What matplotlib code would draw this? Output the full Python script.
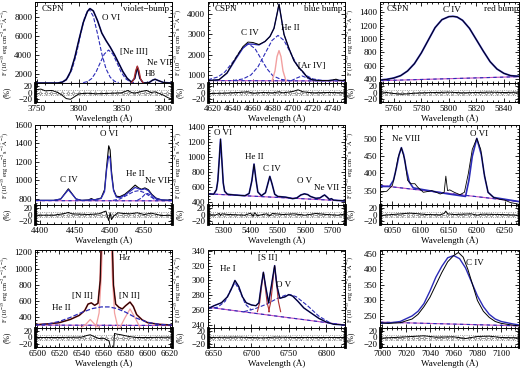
import matplotlib
matplotlib.use("Agg")
import matplotlib.pyplot as plt
import numpy as np
from matplotlib.ticker import MultipleLocator, AutoMinorLocator

plt.rcParams['font.family'] = ['Liberation Serif', 'DejaVu Serif']
plt.rcParams['mathtext.fontset'] = 'stix'
plt.rcParams['font.size'] = 6.5

BLK = 'black'
BLU = '#2b2bb8'
PNK = '#f2a0a0'
RED = '#b03030'
MAG = '#c050c0'

# ---------- panel 1: violet bump ----------
p1_w = [3748, 3775, 3780, 3785, 3790, 3795, 3800, 3805, 3810, 3813, 3817, 3822, 3827, 3832,
        3837, 3842, 3847, 3852, 3857, 3862, 3866, 3869, 3872, 3876, 3883, 3887, 3890, 3894, 3900, 3910]
p1_obs = [1000, 1000, 1080, 1350, 2200, 3700, 5600, 7400, 8600, 8900, 8650, 7600, 6300, 5500,
          4800, 4000, 3100, 2200, 1500, 1100, 1500, 2700, 1500, 1000, 1050, 1300, 1400, 1250, 1050, 1000]
p1_c1_w = [3775, 3782, 3787, 3792, 3797, 3802, 3807, 3812, 3817, 3822, 3827, 3832, 3837, 3842, 3847]
p1_c1 = [1000, 1190, 1600, 2500, 4100, 6200, 8070, 8850, 8070, 6200, 4100, 2500, 1600, 1190, 1050]
p1_c2_w = [3805, 3810, 3815, 3820, 3825, 3830, 3835, 3840, 3845, 3850, 3855, 3860, 3865]
p1_c2 = [1040, 1150, 1470, 2130, 3130, 4080, 4500, 4080, 3130, 2130, 1470, 1150, 1040]
p1_r_w = [3862, 3865, 3867, 3869, 3871, 3873, 3876]
p1_r = [1000, 1400, 2300, 2800, 2300, 1400, 1000]
p1_res_w = [3748, 3755, 3760, 3768, 3775, 3780, 3785, 3790, 3795, 3800, 3810, 3820, 3830, 3840,
            3850, 3858, 3862, 3866, 3872, 3880, 3885, 3890, 3895, 3900, 3905, 3910]
p1_res = [8, 10, 5, 6, 0, -8, -18, -20, -12, -4, -2, -4, -3, -2, -1, 6, 0, -2, 2, 6, 0, 2, -3, -8, -15, -20]

# ---------- panel 2: blue bump ----------
p2_w = [4615, 4626, 4634, 4643, 4650, 4655, 4660, 4666, 4672, 4677, 4681, 4684, 4686, 4688,
        4691, 4696, 4701, 4706, 4710, 4714, 4719, 4726, 4735, 4740, 4743, 4746, 4752]
p2_obs = [720, 760, 1100, 1850, 2400, 2620, 2600, 2500, 2650, 2900, 3300, 4000, 4500, 3900,
          3000, 2300, 1700, 1350, 1150, 900, 760, 720, 720, 750, 790, 730, 720]
p2_fit = [720, 760, 1080, 1800, 2330, 2520, 2520, 2480, 2650, 2900, 3300, 4000, 4480, 3900,
          3000, 2300, 1700, 1350, 1150, 900, 760, 720, 720, 740, 760, 730, 720]
p2_c1_w = [4615, 4625, 4632, 4640, 4648, 4655, 4662, 4668, 4674, 4680, 4688, 4697]
p2_c1 = [760, 900, 1150, 1650, 2250, 2550, 2300, 1800, 1300, 950, 780, 720]
p2_c2_w = [4640, 4650, 4658, 4665, 4672, 4679, 4685, 4691, 4698, 4705, 4712, 4720, 4730]
p2_c2 = [720, 800, 1000, 1400, 2050, 2700, 2950, 2700, 2050, 1400, 1000, 800, 720]
p2_c3_w = [4698, 4704, 4709, 4714, 4720]
p2_c3 = [710, 850, 950, 850, 710]
p2_r_w = [4679, 4682, 4684, 4686, 4688, 4690, 4693]
p2_r = [700, 1200, 1900, 2200, 1900, 1200, 700]
p2_res_w = [4615, 4630, 4645, 4655, 4660, 4670, 4680, 4686, 4690, 4700, 4705, 4710, 4720, 4735, 4752]
p2_res = [-3, -2, 0, 2, -2, 0, -1, 2, -1, 3, 8, 2, -1, 0, -1]

# ---------- panel 3: red bump ----------
p3_w = [5750, 5755, 5760, 5765, 5770, 5775, 5780, 5785, 5790, 5795, 5800, 5803, 5806, 5810,
        5815, 5820, 5825, 5830, 5835, 5840, 5845, 5851]
p3_obs = [385, 395, 415, 450, 520, 630, 790, 980, 1170, 1290, 1335, 1340, 1330, 1280,
          1160, 990, 820, 660, 550, 485, 450, 440]
p3_res_w = [5750, 5755, 5760, 5765, 5770, 5775, 5780, 5790, 5800, 5810, 5820, 5830, 5840, 5851]
p3_res = [2, 0, -3, -5, -4, -2, -1, 0, 1, -1, 0, 1, 0, 1]

# ---------- panel 4 ----------
p4_w = [4393, 4420, 4430, 4436, 4441, 4446, 4452, 4460, 4470, 4474, 4478, 4488, 4493, 4496,
        4499, 4501, 4503, 4506, 4510, 4515, 4522, 4530, 4537, 4542, 4546, 4551, 4556, 4561,
        4567, 4575, 4590]
p4_obs = [785, 785, 800, 860, 910, 860, 800, 785, 790, 805, 790, 810, 900, 1150,
          1375, 1330, 1100, 900, 830, 825, 850, 900, 950, 920, 905, 920, 900, 850,
          810, 790, 785]
p4_fit = [785, 785, 800, 855, 900, 855, 800, 785, 788, 795, 790, 805, 880, 1120,
          1265, 1240, 1060, 890, 820, 815, 840, 885, 925, 910, 900, 910, 890, 840,
          805, 790, 785]
p4_c1_w = [4505, 4515, 4525, 4535, 4542, 4550, 4558, 4565, 4575]
p4_c1 = [785, 800, 840, 880, 890, 870, 830, 800, 785]
p4_c2_w = [4540, 4546, 4551, 4555, 4559, 4564, 4570]
p4_c2 = [785, 810, 850, 860, 840, 800, 785]
p4_res_w = [4393, 4420, 4436, 4441, 4446, 4470, 4485, 4492, 4495, 4497, 4499, 4501, 4503,
            4506, 4512, 4520, 4530, 4540, 4550, 4560, 4575, 4590]
p4_res = [-2, -2, 3, 6, 2, 0, 2, 8, 10, -5, -18, 5, -15, -5, 5, 3, 2, 5, 0, 4, -3, -2]

# ---------- panel 5 ----------
p5_w = [5244, 5265, 5275, 5280, 5285, 5290, 5295, 5300, 5305, 5315, 5340, 5380, 5395, 5405,
        5413, 5420, 5427, 5440, 5455, 5463, 5471, 5479, 5489, 5500, 5530, 5555, 5570, 5585,
        5598, 5610, 5620, 5640, 5655, 5665, 5672, 5680, 5690, 5697, 5705, 5747]
p5_obs = [505, 500, 560, 680, 950, 1240, 950, 650, 540, 500, 490, 480, 510, 680,
          905, 700, 530, 480, 520, 630, 740, 640, 500, 470, 460, 440, 450, 490,
          505, 495, 470, 445, 450, 475, 490, 465, 430, 440, 420, 410]
p5_res_w = [5244, 5270, 5285, 5290, 5295, 5320, 5380, 5400, 5410, 5415, 5425, 5460, 5470,
            5480, 5520, 5560, 5600, 5640, 5680, 5720, 5747]
p5_res = [0, -2, 3, -3, 2, 0, -2, 4, -5, 5, -3, 2, -4, 3, 0, 2, -2, 3, 0, -2, 1]

# ---------- panel 6 ----------
p6_w = [6028, 6040, 6050, 6055, 6060, 6066, 6072, 6077, 6083, 6090, 6095, 6105, 6115, 6120,
        6128, 6135, 6142, 6145, 6148, 6152, 6160, 6170, 6178, 6185, 6192, 6200, 6207, 6213,
        6220, 6230, 6240, 6250, 6260, 6275]
p6_obs = [345, 348, 365, 400, 445, 475, 440, 380, 370, 370, 360, 345, 348, 350,
          345, 340, 345, 392, 350, 352, 345, 338, 345, 400, 470, 502, 470, 400,
          345, 330, 325, 322, 315, 310]
p6_fit_w = [6028, 6045, 6052, 6057, 6062, 6066, 6070, 6075, 6080, 6087, 6100, 6150, 6180,
            6186, 6192, 6200, 6208, 6214, 6220, 6230, 6275]
p6_fit = [362, 362, 380, 415, 455, 475, 455, 410, 375, 358, 354, 340, 333,
          380, 450, 502, 455, 390, 345, 330, 318]
p6_res_w = [6028, 6050, 6066, 6080, 6090, 6110, 6135, 6142, 6145, 6148, 6160, 6190, 6200,
            6210, 6240, 6275]
p6_res = [-3, 0, 2, 4, 3, 0, -1, 3, 10, 2, 0, 2, -2, 1, 0, -2]

# ---------- panel 7 ----------
p7_w = [6498, 6510, 6520, 6530, 6538, 6543, 6546, 6549, 6552, 6555, 6557, 6559, 6563, 6567,
        6569, 6571, 6574, 6577, 6580, 6584, 6587, 6590, 6595, 6600, 6610, 6622]
p7_obs = [305, 315, 330, 370, 420, 480, 560, 575, 545, 570, 850, 1800, 2800, 1800,
          800, 560, 520, 500, 540, 585, 530, 430, 365, 330, 310, 300]
p7_c1_w = [6498, 6510, 6520, 6530, 6540, 6550, 6558, 6565, 6572, 6580, 6590, 6600, 6610, 6622]
p7_c1 = [300, 315, 345, 395, 455, 505, 525, 525, 505, 460, 385, 335, 310, 300]
p7_n1_w = [6540, 6544, 6548, 6552, 6556]
p7_n1 = [270, 310, 370, 310, 270]
p7_ha_w = [6553, 6556, 6558, 6560, 6563, 6566, 6568, 6570, 6573]
p7_ha = [270, 450, 900, 1800, 2800, 1800, 900, 450, 270]
p7_n2_w = [6575, 6579, 6584, 6589, 6593]
p7_n2 = [270, 380, 500, 380, 270]
p7_res_w = [6498, 6520, 6540, 6545, 6548, 6552, 6556, 6560, 6565, 6567, 6569, 6570, 6572,
            6576, 6580, 6585, 6590, 6600, 6622]
p7_res = [0, 0, 1, 6, 8, 2, -3, -2, -10, -40, -40, 12, 10, 8, 5, 2, 0, 0, 1]

# ---------- panel 8 ----------
p8_w = [6642, 6650, 6660, 6668, 6673, 6678, 6683, 6688, 6693, 6700, 6706, 6710, 6713, 6716,
        6719, 6723, 6727, 6731, 6734, 6738, 6745, 6750, 6755, 6762, 6770, 6780, 6790, 6800,
        6810, 6825]
p8_obs = [262, 266, 270, 278, 288, 300, 292, 278, 270, 267, 266, 270, 292, 311,
          292, 270, 295, 320, 293, 276, 278, 281, 279, 272, 263, 256, 249, 244,
          241, 240]
p8_c1_w = [6642, 6655, 6665, 6672, 6678, 6684, 6692, 6700]
p8_c1 = [262, 264, 272, 287, 297, 287, 268, 260]
p8_c2_w = [6690, 6705, 6720, 6735, 6745, 6752, 6760, 6775, 6790, 6805]
p8_c2 = [258, 262, 268, 276, 280, 281, 278, 266, 252, 243]
p8_s1_w = [6708, 6711, 6714, 6716, 6718, 6721, 6724]
p8_s1 = [258, 270, 295, 311, 295, 270, 258]
p8_s2_w = [6723, 6726, 6729, 6731, 6733, 6736, 6739]
p8_s2 = [258, 272, 302, 320, 302, 272, 258]
p8_res_w = [6642, 6680, 6716, 6731, 6760, 6825]
p8_res = [0, 1, -1, 1, 0, 0]

# ---------- panel 9 ----------
p9_w = [6998, 7005, 7015, 7025, 7030, 7035, 7040, 7045, 7050, 7055, 7060, 7064, 7068, 7072,
        7076, 7080, 7085, 7090, 7095, 7100, 7110, 7115]
p9_obs = [228, 226, 228, 240, 255, 280, 310, 350, 390, 425, 445, 455, 440, 400,
          350, 300, 265, 245, 232, 226, 220, 218]
p9_fit_w = [6998, 7005, 7015, 7025, 7030, 7035, 7040, 7045, 7050, 7055, 7060, 7065, 7070,
            7075, 7080, 7085, 7090, 7095, 7100, 7110, 7115]
p9_fit = [226, 227, 232, 250, 265, 290, 330, 375, 410, 438, 445, 435, 405,
          360, 315, 280, 255, 240, 232, 224, 221]
p9_res_w = [6998, 7010, 7020, 7030, 7035, 7045, 7060, 7070, 7080, 7090, 7100, 7115]
p9_res = [-2, 0, 2, 4, 5, 1, 2, -3, 3, 4, 0, -1]

# continua (two ends)
cont = {
    1: ([3748, 3910], [1000, 1000]),
    2: ([4615, 4752], [720, 700]),
    3: ([5750, 5851], [375, 435]),
    4: ([4393, 4590], [782, 780]),
    5: ([5244, 5747], [505, 410]),
    6: ([6028, 6275], [365, 318]),
    7: ([6498, 6622], [300, 295]),
    8: ([6642, 6825], [264, 240]),
    9: ([6998, 7115], [230, 218]),
}

W, H = 520, 370
fig = plt.figure(figsize=(5.2, 3.7), dpi=100)
cols = [(35, 172), (208, 345), (380, 519)]
rows = [(2, 83, 102), (125, 205, 224), (250, 328, 347)]

YLAB = r'F (10$^{-15}$ erg cm$^{-2}$s$^{-1}$$\mathrm{\AA}^{-1}$)'


def panel(c, r, xlim, ylim, xstep, ystep, res_w, res):
    x0, x1 = cols[c]
    t, m, b = rows[r]
    ax = fig.add_axes([x0 / W, 1 - m / H, (x1 - x0) / W, (m - t) / H])
    ar = fig.add_axes([x0 / W, 1 - b / H, (x1 - x0) / W, (b - m) / H])
    for a in (ax, ar):
        a.set_xlim(xlim)
        a.xaxis.set_major_locator(MultipleLocator(xstep))
        a.xaxis.set_minor_locator(AutoMinorLocator(5))
        a.tick_params(direction='in', which='both', top=True, right=True,
                      labelsize=6.5, width=0.6, length=3, pad=2)
        a.tick_params(which='minor', length=1.5)
        for s in a.spines.values():
            s.set_linewidth(0.7)
    ax.set_ylim(ylim)
    ax.yaxis.set_major_locator(MultipleLocator(ystep))
    ax.yaxis.set_minor_locator(AutoMinorLocator(5))
    ax.tick_params(labelbottom=False)
    ax.set_ylabel(YLAB, fontsize=4.5)
    ax.yaxis.set_label_coords(-0.18, 0.5)
    ar.set_ylim(-28, 28)
    ar.set_yticks([-20, 0, 20])
    ar.yaxis.set_minor_locator(MultipleLocator(5))
    ar.spines['left'].set_linewidth(2)
    ar.spines['right'].set_linewidth(2)
    ar.set_ylabel('(%)', fontsize=5.5)
    ar.yaxis.set_label_coords(-0.18, 0.5)
    ar.set_xlabel('Wavelength (Å)', fontsize=6.5, labelpad=1)
    # residual panel
    ar.axhline(8, color='gray', ls=':', lw=0.6)
    ar.axhline(-8, color='gray', ls=':', lw=0.6)
    mk = np.linspace(xlim[0], xlim[1], 26)
    ar.plot(mk, np.zeros_like(mk), color='gray', ls='--', lw=0.6,
            marker='d', ms=2, mfc='white', mew=0.5)
    ar.plot(res_w, res, color=BLK, lw=0.7)
    # continuum
    cw, cf = cont[c + 1 + 3 * r]
    ax.plot(cw, cf, color=MAG, lw=0.8)
    ax.plot(cw, cf, color=BLU, lw=0.8, ls=(0, (3, 3)))
    return ax, ar


def txt(ax, x, y, s, **kw):
    ax.text(x, y, s, fontsize=6.5, ha='center', va='center', **kw)


# panel 1
ax, ar = panel(0, 0, (3748, 3910), (1000, 9600), 50, 2000, p1_res_w, p1_res)
ax.plot(p1_c1_w, p1_c1, color=BLU, ls='--', lw=0.8)
ax.plot(p1_c2_w, p1_c2, color=BLU, ls='--', lw=0.8)
ax.plot(p1_w, p1_obs, color=BLU, lw=1.2)
ax.plot(p1_w, p1_obs, color=BLK, lw=0.7)
ax.plot(p1_r_w, p1_r, color=RED, lw=0.9)
ax.text(0.05, 0.96, 'CSPN', transform=ax.transAxes, fontsize=6.5, va='top')
ax.text(0.98, 0.96, 'violet−bump', transform=ax.transAxes, fontsize=6.5, va='top', ha='right')
txt(ax, 3838, 7900, 'O VI')
txt(ax, 3865, 4300, '[Ne III]')
txt(ax, 3895, 3150, 'Ne VII')
txt(ax, 3884, 2000, 'H8')

# panel 2
ax, ar = panel(1, 0, (4615, 4752), (600, 4600), 20, 1000, p2_res_w, p2_res)
ax.plot(p2_c1_w, p2_c1, color=BLU, ls='--', lw=0.8)
ax.plot(p2_c2_w, p2_c2, color=BLU, ls='--', lw=0.8)
ax.plot(p2_c3_w, p2_c3, color=BLU, ls='--', lw=0.8)
ax.plot(p2_r_w, p2_r, color=PNK, lw=1.0)
ax.plot(p2_w, p2_fit, color=BLU, lw=1.0)
ax.plot(p2_w, p2_obs, color=BLK, lw=0.7)
ax.text(0.05, 0.96, 'CSPN', transform=ax.transAxes, fontsize=6.5, va='top')
ax.text(0.98, 0.96, 'blue bump', transform=ax.transAxes, fontsize=6.5, va='top', ha='right')
txt(ax, 4657, 3050, 'C IV')
txt(ax, 4697, 3300, 'He II')
txt(ax, 4719, 1450, '[Ar IV]')

# panel 3
ax, ar = panel(2, 0, (5750, 5851), (340, 1555), 20, 200, p3_res_w, p3_res)
ax.plot(p3_w, p3_obs, color=BLU, lw=1.3)
ax.plot(p3_w, p3_obs, color=BLK, lw=0.6)
ax.text(0.05, 0.96, 'CSPN', transform=ax.transAxes, fontsize=6.5, va='top')
ax.text(1.0, 0.96, 'red bump', transform=ax.transAxes, fontsize=6.5, va='top', ha='right')
txt(ax, 5802, 1430, 'C IV')

# panel 4
ax, ar = panel(0, 1, (4393, 4590), (735, 1600), 50, 200, p4_res_w, p4_res)
ax.plot(p4_c1_w, p4_c1, color=BLU, ls='--', lw=0.8)
ax.plot(p4_c2_w, p4_c2, color=BLU, ls='--', lw=0.8)
ax.plot(p4_w, p4_obs, color=BLK, lw=0.8)
ax.plot(p4_w, p4_fit, color=BLU, lw=0.9)
txt(ax, 4441, 1000, 'C IV')
txt(ax, 4499, 1500, 'O VI')
txt(ax, 4537, 1070, 'He II')
txt(ax, 4569, 990, 'Ne VII')

# panel 5
ax, ar = panel(1, 1, (5244, 5747), (355, 1430), 100, 200, p5_res_w, p5_res)
ax.plot(p5_w, p5_obs, color=BLU, lw=1.2)
ax.plot(p5_w, p5_obs, color=BLK, lw=0.6)
txt(ax, 5300, 1327, 'O VI')
txt(ax, 5413, 997, 'He II')
txt(ax, 5478, 840, 'C IV')
txt(ax, 5598, 678, 'O V')
txt(ax, 5680, 580, 'Ne VII')

# panel 6
ax, ar = panel(2, 1, (6028, 6275), (308, 541), 50, 50, p6_res_w, p6_res)
ax.plot(p6_fit_w, p6_fit, color=BLU, lw=1.2)
ax.plot(p6_w, p6_obs, color=BLK, lw=0.6)
txt(ax, 6075, 499, 'Ne VIII')
txt(ax, 6204, 516, 'O VI')

# panel 7
ax, ar = panel(0, 2, (6498, 6622), (264, 1230), 20, 200, p7_res_w, p7_res)
ax.plot(p7_n1_w, p7_n1, color=PNK, lw=0.9)
ax.plot(p7_ha_w, p7_ha, color=PNK, lw=0.9)
ax.plot(p7_n2_w, p7_n2, color=PNK, lw=0.9)
ax.plot(p7_w, p7_obs, color=RED, lw=1.2)
ax.plot(p7_w, p7_obs, color=BLK, lw=0.6)
ax.plot(p7_c1_w, p7_c1, color=BLU, ls='--', lw=0.9)
txt(ax, 6579, 1140, 'H$\\alpha$')
txt(ax, 6541, 658, '[N II]')
txt(ax, 6583, 658, '[N II]')
txt(ax, 6522, 507, 'He II')

# panel 8
ax, ar = panel(1, 2, (6642, 6825), (236, 341), 50, 20, p8_res_w, p8_res)
ax.plot(p8_c1_w, p8_c1, color=BLU, ls='--', lw=0.8)
ax.plot(p8_c2_w, p8_c2, color=BLU, ls='--', lw=0.8)
ax.plot(p8_s1_w, p8_s1, color=RED, lw=0.8)
ax.plot(p8_s2_w, p8_s2, color=RED, lw=0.8)
ax.plot(p8_w, p8_obs, color=BLU, lw=1.1)
ax.plot(p8_w, p8_obs, color=BLK, lw=0.6)
txt(ax, 6669, 315, 'He I')
txt(ax, 6722, 330, '[S II]')
txt(ax, 6743, 294, 'O V')

# panel 9
ax, ar = panel(2, 2, (6998, 7115), (211, 463), 20, 50, p9_res_w, p9_res)
ax.plot(p9_fit_w, p9_fit, color=BLU, lw=1.0)
ax.plot(p9_w, p9_obs, color=BLK, lw=0.7)
txt(ax, 7078, 420, 'C IV')

fig.savefig('out.png', dpi=100)
